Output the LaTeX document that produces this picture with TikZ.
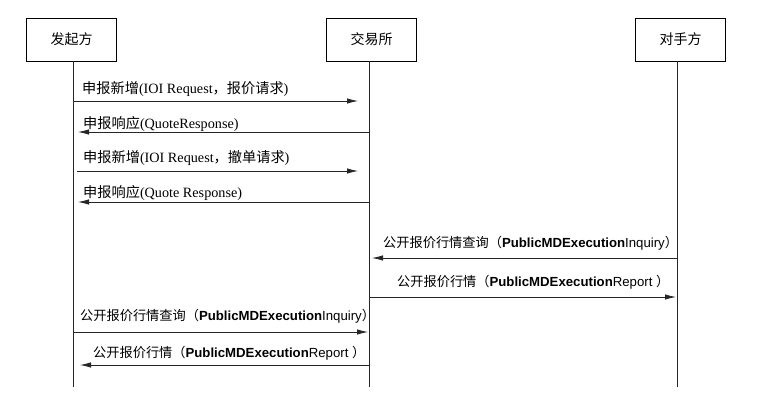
\documentclass[tikz,border=0pt]{standalone}
\usepackage{fontspec}
\setmainfont{Liberation Serif}
\newfontfamily\cjk{Noto Sans CJK SC}
\newfontfamily\arial{Liberation Sans}
\usetikzlibrary{arrows.meta}
\newcommand{\zh}[1]{{\cjk #1}}
\newcommand{\msg}[2]{\zh{#1}{\arial\textbf{PublicMDExecution}#2}}
\tikzset{
  actor/.style={draw,thick,minimum width=90pt,minimum height=43pt,font=\cjk\fontsize{14}{16}\selectfont},
  life/.style={thick,draw=black!85},
  call/.style={thick,draw=black!85,-{Latex[length=11pt,width=5.5pt]}},
  lbl/.style={anchor=west,inner sep=0pt,font=\fontsize{14.2}{16}\selectfont},
  lbls/.style={anchor=west,inner sep=0pt,font=\fontsize{13.2}{15}\selectfont}
}
\begin{document}
\begin{tikzpicture}[x=1pt,y=-1pt]
	\useasboundingbox (0,0) rectangle (760,403);
	\node[actor] (fqf) at (71.5,39.5) {发起方};
	\node[actor] (jys) at (371.5,39.5) {交易所};
	\node[actor] (dsf) at (680.5,39.5) {对手方};
	\coordinate (fqfend) at (73,387);
	\coordinate (jysend) at (369,387);
	\coordinate (dsfend) at (677,387);
	\draw[life] (fqf.south -| fqfend) -- (fqfend);
	\draw[life] (jys.south -| jysend) -- (jysend);
	\draw[life] (dsf.south -| dsfend) -- (dsfend);
	% points on the lifelines
	\coordinate (a1) at (73,101);  \coordinate (b1) at (358,101);
	\coordinate (a2) at (369,132); \coordinate (b2) at (78,132);
	\coordinate (a3) at (77,171);  \coordinate (b3) at (358,171);
	\coordinate (a4) at (370,202); \coordinate (b4) at (78,202);
	\coordinate (a5) at (677,258); \coordinate (b5) at (372,258);
	\coordinate (a6) at (369,297); \coordinate (b6) at (676,297);
	\coordinate (a7) at (73,332);  \coordinate (b7) at (368,332);
	\coordinate (a8) at (369,365); \coordinate (b8) at (80,365);
	\foreach \i in {1,...,8}
		\draw[call] (a\i) -- (b\i);
	% labels
	\node[lbl] (t1) at (82,89) {\zh{申报新增}(IOI Request\zh{，报价请求})};
	\node[lbl] (t2) at (83,124) {\zh{申报响应}(QuoteResponse)};
	\node[lbl] (t3) at (83,158) {\zh{申报新增}(IOI Request\zh{，撤单请求})};
	\node[lbl] (t4) at (83,193) {\zh{申报响应}(Quote Response)};
	\node[lbls] (t5) at (383,243) {\msg{公开报价行情查询（}{Inquiry\zh{）}}};
	\node[lbls] (t6) at (397,282) {\msg{公开报价行情（}{Report \zh{）}}};
	\node[lbls] (t7) at (80,316) {\msg{公开报价行情查询（}{Inquiry\zh{）}}};
	\node[lbls] (t8) at (93,353) {\msg{公开报价行情（}{Report \zh{）}}};
\end{tikzpicture}
\end{document}
